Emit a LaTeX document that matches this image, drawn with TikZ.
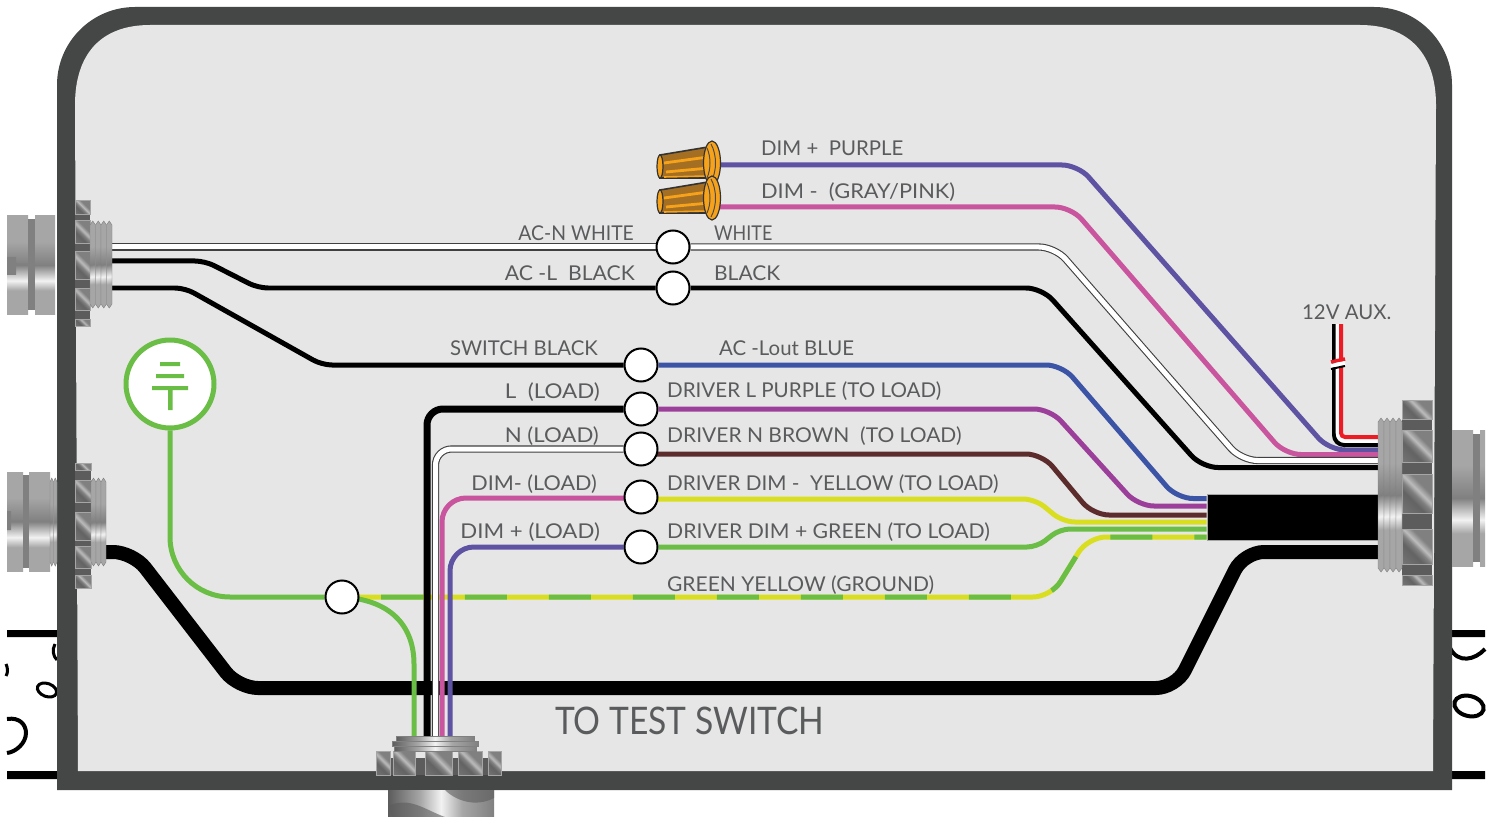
\documentclass[tikz,border=0pt]{standalone}
\usepackage{fontspec}
\setmainfont{Lato}
\usetikzlibrary{positioning}
\usetikzlibrary{backgrounds}
\definecolor{wall}{HTML}{454746}
\definecolor{panel}{HTML}{E6E6E6}
\definecolor{ink}{HTML}{5A5B5D}
\definecolor{wpurple}{HTML}{5E52A3}
\definecolor{wpink}{HTML}{C9559F}
\definecolor{wblue}{HTML}{3C54A5}
\definecolor{wviolet}{HTML}{9C3F9A}
\definecolor{wbrown}{HTML}{5C2B2B}
\definecolor{wyellow}{HTML}{D9DF20}
\definecolor{wgreen}{HTML}{6ABD45}
\definecolor{wred}{HTML}{ED1C24}
\definecolor{steelK}{HTML}{5C5C5C}
\definecolor{steelD}{HTML}{808080}
\definecolor{steelM}{HTML}{A6A6A6}
\definecolor{steelL}{HTML}{F2F2F2}
\definecolor{capO}{HTML}{F7A21B}
\definecolor{capB}{HTML}{A46F22}
\pgfdeclareverticalshading{steelv}{100bp}{color(0bp)=(steelM); color(25bp)=(steelM); color(37bp)=(steelM); color(42bp)=(steelL); color(50bp)=(steelD); color(62bp)=(steelM); color(75bp)=(steelM); color(100bp)=(steelM)}
\pgfdeclarehorizontalshading{steelh}{100bp}{color(0bp)=(steelD); color(25bp)=(steelK); color(40bp)=(steelM); color(50bp)=(steelL); color(60bp)=(steelM); color(75bp)=(steelD); color(100bp)=(steelD)}
\pgfdeclarehorizontalshading{facet}{100bp}{color(0bp)=(steelD); color(38bp)=(steelK!80!steelD); color(47bp)=(steelD); color(54bp)=(steelM!70!steelL); color(64bp)=(steelD); color(100bp)=(steelD)}
\tikzstyle{splice} = [draw=black, fill=white, circle, line width=0.1cm, minimum size=1.65cm, inner sep=0pt]
\tikzstyle{wire} = [line width=0.25cm, rounded corners=0.8cm]
\tikzstyle{wirewhite} = [draw=black!75, double=white, line width=0.055cm, double distance=0.25cm, rounded corners=0.8cm]
\tikzstyle{tag} = [text=ink, font=\fontsize{29}{34}\selectfont, inner sep=0pt, anchor=base west]
\tikzstyle{tagleft} = [tag, anchor=base east]
\newcommand{\wide}[2]{\scalebox{#1}[1]{#2}}
\newcommand{\nutsegs}[3]{% x0, x1, list of y ranges
  \foreach \ya/\yb in {#3} {\shadedraw [shading=facet, shading angle=45, draw=steelM, line width=0.05cm] (#1,\ya) rectangle (#2,\yb);}}
\newcommand{\threadv}[5]{% x0, rib width, ribs, top, bottom
  \foreach \k in {1,...,#3} {
    \pgfmathsetmacro{\xa}{#1+(\k-1)*#2}
    \shadedraw [shading=steelv, shading angle=10, draw=steelD, line width=0.02cm] (\xa,#4+4) -- (\xa+0.5*#2,#4) -- (\xa+#2,#4+4) -- (\xa+#2,#5-4) -- (\xa+0.5*#2,#5) -- (\xa,#5-4) -- cycle;}}
\newcommand{\wirecap}[2]{% skirt centre
  \begin{scope}[shift={(#1,#2)}]
    \draw [fill=capB, draw=black!80, line width=0.08cm] (-52,-8) -- (-4,-16) -- (-4,15) -- (-52,15) -- cycle;
    \draw [capO, line width=0.14cm] (-48,0) -- (-4,-6);
    \draw [capO, line width=0.14cm] (-46,9) -- (-3,5);
    \draw [capO, line width=0.08cm] (-48,14) -- (-4,13);
    \draw [fill=capO, draw=black!80, line width=0.06cm] (-52,3.5) ellipse (3 and 11.5);
    \draw [fill=capO, draw=black!80, line width=0.06cm] (0,0) ellipse (8.5 and 22);
    \draw [black!70, line width=0.05cm] (-1,-19) .. controls (5,-8) and (5,8) .. (-1,19);
    \draw [black!70, line width=0.05cm] (-5,-15) .. controls (-1,-6) and (-1,6) .. (-5,15);
  \end{scope}}

\begin{document}
\begin{tikzpicture}[x=0.05cm,y=-0.05cm]
    \useasboundingbox (0,0) rectangle (1496,817);

    \node [splice] (acn) at (673,247) {};
    \node [splice] (acl) at (673,288) {};
    \node [splice] (swb) at (641,365) {};
    \node [splice] (lload) at (641,409) {};
    \node [splice] (nload) at (641,449) {};
    \node [splice] (dimm) at (641,497) {};
    \node [splice] (dimp) at (641,547) {};
    \node [splice] (gnd) at (342,597) {};
    \node [draw=steelM, fill=black, line width=0.05cm, minimum width=8.55cm, minimum height=2.3cm, inner sep=0pt] (cable) at (1292.5,517) {};
    \node [draw=wgreen, fill=white, circle, line width=0.25cm, minimum size=4.4cm, inner sep=0pt] (earth) at (170,384) {};
    \coordinate (capa) at (720,165);
    \coordinate (capb) at (720,207);
    \coordinate (portl) at (112,300);
    \coordinate (portr) at (1378,300);
    \coordinate (portb) at (300,738);
    \coordinate (auxa) at (1334,324);
    \coordinate (auxw) at (1337.5,324);
    \coordinate (auxb) at (1341,324);

    \begin{pgfonlayer}{background}
    % sheet behind the box
    \fill [white] (0,0) rectangle (1496,817);
    \fill [black] (7,630) rectangle (57,637) (7,771) rectangle (57,779);
    \fill [black] (1452,630) rectangle (1485,637) (1452,771) rectangle (1485,779);
    \draw [black, line width=0.15cm] (55,644) .. controls (52,650) and (53,656) .. (57,660);
    \draw [black, line width=0.15cm] (6,664) .. controls (8,668) and (8,673) .. (6,676);
    \draw [black, line width=0.15cm, rotate around={-20:(47,690)}] (47,690) ellipse (10 and 6.5);
    \draw [black, line width=0.2cm] (7,719) .. controls (20,717) and (26,725) .. (26,733) .. controls (26,743) and (16,752) .. (7,753);
    \draw [black, line width=0.2cm] (1450,648) .. controls (1458,664) and (1475,660) .. (1485,649);
    \draw [black, line width=0.2cm, rotate around={-15:(1469,706)}] (1469,706) ellipse (15 and 10);
    % box
    \fill [wall] (57,790) -- (57,85) .. controls (57,42) and (92,7) .. (135,7) -- (1374,7) .. controls (1417,7) and (1452,42) .. (1452,85) -- (1452,790) -- cycle;
    \fill [panel] (78,771) -- (75,105) .. controls (75,55) and (100,25) .. (150,25) -- (1360,25) .. controls (1410,25) and (1436,55) .. (1436,105) -- (1433,771) -- cycle;

    % wires
    \draw [line width=0.7cm, rounded corners=1cm, black] (106,552) -- (133,552) -- (238,688) -- (1176,688) -- (1244,552) -- (portr |- 0,552);
    \draw [wire, wpurple] (capa) -- (1078,165) -- (1329,450) -- (portr |- 0,450);
    \draw [wire, wpink] (capb) -- (1071,207) -- (1285,454.5) -- (portr |- 0,454.5);
    \draw [wirewhite] (portl |- acn) -- (acn);
    \draw [wirewhite] (acn) -- (1055,247) -- (1241.5,460.5) -- (portr |- 0,460.5);
    \draw [wire, black, rounded corners=0.5cm] (portl |- 0,261) -- (205,261) -- (258,288) -- (acl);
    \draw [wire, black] (acl) -- (1042,288) -- (1202,467.5) -- (portr |- 0,467.5);
    \draw [wire, black, rounded corners=0.5cm] (portl |- 0,288) -- (185,288) -- (322,365) -- (swb);
    \draw [wire, wblue] (swb) -- (1062,365) -- (1177,498.5) -- (cable.west |- 0,498.5);
    \draw [wire, wviolet] (lload) -- (1050,409) -- (1138,506) -- (cable.west |- 0,506);
    \draw [wire, wbrown] (nload |- 0,454) -- (1042,454) -- (1093,515) -- (cable.west |- 0,515);
    \draw [wire, wyellow, rounded corners=0.6cm] (dimm |- 0,499) -- (1035,499) -- (1063,522) -- (cable.west |- 0,522);
    \draw [wire, wgreen, rounded corners=0.5cm] (dimp) -- (1037,547) -- (1060,529) -- (cable.west |- 0,529);
    \draw [wire, wgreen, rounded corners=3cm] (earth) -- (170,597) -- (gnd);
    \draw [wire, wyellow, rounded corners=0.9cm] (gnd.center) -- (1051,597) -- (1088,537) -- (cable.west |- 0,537);
    \draw [wire, wgreen, rounded corners=0.9cm, dash pattern=on 2.1cm off 2.1cm, dash phase=2.25cm] (gnd.center) -- (1051,597) -- (1088,537) -- (cable.west |- 0,537);
    \draw [wire, wgreen] (gnd.center) .. controls (395,600) and (414,630) .. (414,680) -- (portb -| 414,0);
    \draw [wire, black, line width=0.35cm] (lload) -- (427,409) -- (portb -| 427,0);
    \draw [wirewhite] (nload) -- (435.5,449) -- (portb -| 435.5,0);
    \draw [wire, wpink, rounded corners=1.2cm] (dimm |- 0,498) -- (442,498) -- (portb -| 442,0);
    \draw [wire, wpurple, rounded corners=1.2cm] (dimp) -- (450,547) -- (portb -| 450,0);
    \draw [black, line width=0.2cm, rounded corners=0.5cm] (auxa) -- (1334,445) -- (portr |- 0,445);
    \draw [white, line width=0.18cm, rounded corners=0.4cm] (auxw) -- (1337.5,441) -- (portr |- 0,441);
    \draw [wred, line width=0.2cm, rounded corners=0.2cm] (auxb) -- (1341,437) -- (portr |- 0,437);
    \draw [wred, line width=0.18cm] (1331,362) -- (1345,359);
    \draw [white, line width=0.2cm] (1331,366) -- (1345,363);
    \draw [black, line width=0.1cm] (1331,369) -- (1345,366);
    \end{pgfonlayer}

    % ground symbol
    \fill [wgreen] (160,362) rectangle (180,366) (156,374) rectangle (184,378) (152,386) rectangle (188,390) (168,386) rectangle (172.5,410);

    % wire caps
    \wirecap{712}{163}
    \wirecap{712}{198}

    % upper left gland
    \shade [shading=steelv] (7,216) rectangle (28,314);
    \shade [shading=steelv] (35,216) rectangle (55,314);
    \fill [steelD] (28,219) rectangle (35,310);
    \fill [steelD] (7,263.5) rectangle (28,265) (7,257) rectangle (16,275);
    \fill [steelK] (75,212) rectangle (90,320);
    \nutsegs{75}{90}{201/215,221/244,252/280,288/310,319/326}
    \threadv{90}{5.5}{4}{221}{308}

    % lower left gland
    \shade [shading=steelv] (7,472) rectangle (23,571);
    \shade [shading=steelv] (29,472) rectangle (50,571);
    \fill [steelD] (23,475) rectangle (29,568);
    \fill [steelD] (7,520.5) rectangle (23,522) (7,511) rectangle (11,530);
    \threadv{50}{3.5}{2}{478}{566}
    \fill [steelK] (75,470) rectangle (91,580);
    \nutsegs{75}{91}{463/470,480/502,512/540,546/568,575/588}
    \threadv{91}{5}{3}{478}{566}

    % right gland
    \shade [shading=steelv] (1452,430) rectangle (1473,566);
    \fill [steelD] (1473,434) rectangle (1480,562);
    \shade [shading=steelv] (1480,430) rectangle (1485,566);
    \fill [steelD] (1452,497.5) rectangle (1485,499);
    \fill [steelK] (1402,415) rectangle (1432,580);
    \nutsegs{1402}{1432}{400/419,430/462,474/513,529/564,575/585}
    \threadv{1378}{6}{4}{418}{572}

    % bottom gland
    \shade [shading=steelh] (388,790) rectangle (494,817);
    \fill [steelK, opacity=0.6] (388,806) .. controls (410,796) and (425,810) .. (445,817) -- (392,817) -- cycle;
    \fill [steelK, opacity=0.6] (445,790) .. controls (455,800) and (475,808) .. (494,798) -- (494,790) -- cycle;
    \fill [steelK] (376,758) rectangle (501,775);
    \foreach \xa/\xb in {376/390,393/415,425/452,458/482,488/501} {\shadedraw [shading=facet, shading angle=45, draw=steelM, line width=0.05cm] (\xa,751) rectangle (\xb,775);}
    \foreach \ya/\xa/\xb in {736/396/474,741/392/478,746/394/476} {\shadedraw [shading=steelh, draw=steelD, line width=0.02cm] (\xa,\ya) rectangle (\xb,\ya+5);}

    % labels
    \node [tag] (tdimp) at (761,156) {DIM +\ \ PURPLE};
    \node [tag] (tdimm) at (761,199) {\wide{1.07}{DIM -\ \ (GRAY/PINK)}};
    \node [tagleft] (tacn) at (634,241) {\wide{0.95}{AC-N WHITE}};
    \node [tag] (twhite) at (714,241) {\wide{0.88}{WHITE}};
    \node [tagleft] (tacl) at (635,281) {\wide{1.04}{AC -L\ \ BLACK}};
    \node [tag] (tblack) at (714,281) {\wide{1.03}{BLACK}};
    \node [tagleft] (tswb) at (598,355) {SWITCH BLACK};
    \node [tag] (tout) at (719,355) {AC -Lout BLUE};
    \node [tagleft] (tlload) at (600,398) {\wide{1.1}{L\ \ (LOAD)}};
    \node [tag] (tdrl) at (667,397) {\wide{1.01}{DRIVER L PURPLE (TO LOAD)}};
    \node [tagleft] (tnload) at (599,442) {\wide{1.09}{N (LOAD)}};
    \node [tag] (tdrn) at (667,442) {\wide{1.03}{DRIVER N BROWN\ \ (TO LOAD)}};
    \node [tagleft] (tdimml) at (597,490) {\wide{1.06}{DIM- (LOAD)}};
    \node [tag] (tdrm) at (667,490) {\wide{1.015}{DRIVER DIM -\ \ YELLOW (TO LOAD)}};
    \node [tagleft] (tdimpl) at (600,538) {\wide{1.09}{DIM + (LOAD)}};
    \node [tag] (tdrp) at (667,538) {\wide{1.04}{DRIVER DIM + GREEN (TO LOAD)}};
    \node [tag] (tgy) at (667,591) {\wide{1.03}{GREEN YELLOW (GROUND)}};
    \node [tag, font=\fontsize{54}{60}\selectfont] (ttest) at (555,734) {\wide{0.885}{TO TEST SWITCH}};
    \node [tag] (taux) at (1302,319) {12V AUX.};
\end{tikzpicture}
\end{document}
